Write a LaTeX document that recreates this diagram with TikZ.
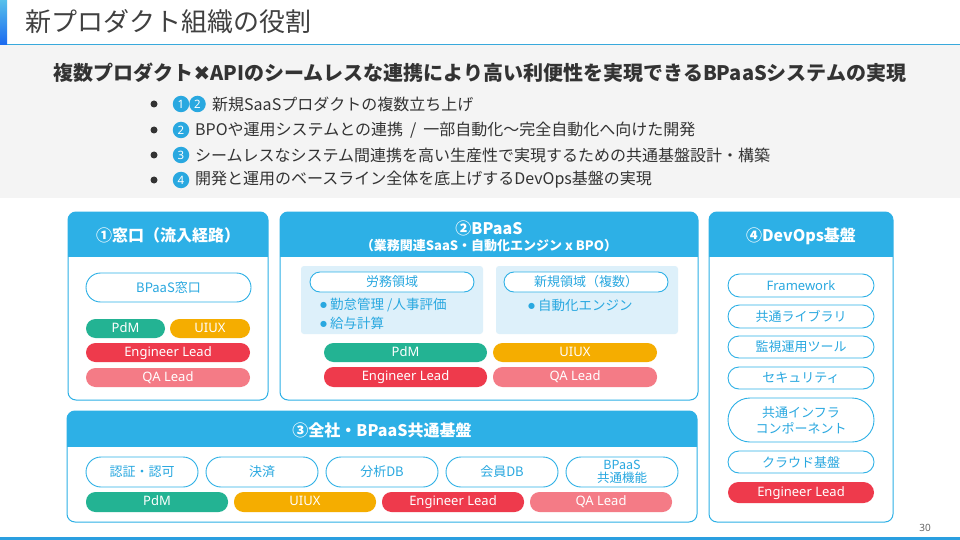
\documentclass[tikz,border=0pt]{standalone}
\usepackage{fontspec}
\setmainfont{Noto Sans CJK JP}
\newfontfamily\dv{DejaVu Sans}
\newfontfamily\lat{Noto Sans}
\definecolor{hblue}{HTML}{2DB0E6}
\definecolor{tblue}{HTML}{29A8E0}
\definecolor{lblue}{HTML}{DDF0FA}
\definecolor{pdm}{HTML}{23B393}
\definecolor{uiux}{HTML}{F5AD00}
\definecolor{eng}{HTML}{EE3A4C}
\definecolor{qa}{HTML}{F47B86}
\definecolor{band}{HTML}{F4F4F4}
\definecolor{ttl}{HTML}{404040}
\definecolor{txt}{HTML}{333333}
\definecolor{rule}{HTML}{38A9DC}
\definecolor{botblue}{HTML}{2A9FE0}
\newcommand{\bdot}{\raisebox{2pt}{\dv\fontsize{8}{10}\selectfont ●}\hspace{3pt}}
\tikzset{
  panel/.style={draw=hblue, line width=1pt, fill=white, rounded corners=8pt, inner sep=0pt},
  hdr/.style={text=white, font=\fontsize{16}{19}\selectfont\bfseries, inner sep=0pt},
  pill/.style={draw=hblue, line width=0.9pt, fill=white, rounded corners=10pt, text=tblue,
    font=\fontsize{13}{16}\selectfont, inner sep=0pt, align=center},
  role/.style={rounded corners=9.5pt, text=white, font=\lat\fontsize{13}{15}\selectfont, inner sep=0pt,
    text height=9.5pt, text depth=2.5pt},
  subbox/.style={fill=lblue, rounded corners=3pt, inner sep=0pt},
  btxt/.style={anchor=west, inner sep=0pt, text=tblue, font=\fontsize{13.5}{16}\selectfont},
  num/.style={circle, fill=tblue, text=white, minimum size=16.5pt, inner sep=0pt,
    font=\lat\fontsize{11.5}{11.5}\selectfont\bfseries},
  dotmark/.style={circle, fill=txt, minimum size=7pt, inner sep=0pt},
  ltxt/.style={anchor=west, inner sep=0pt, text=txt, font=\fontsize{16}{19}\selectfont}
}
\begin{document}
\begin{tikzpicture}[x=1pt,y=-1pt]
\useasboundingbox (0,0) rectangle (960,540);
\fill[white] (0,0) rectangle (960,540);
\fill[band] (0,45.5) rectangle (960,198);
\shade[top color=hblue!80!white, bottom color=blue!40!hblue] (0,0) rectangle (7,45);
\fill[rule] (7,44) rectangle (960,45.5);
\fill[botblue] (0,537) rectangle (960,540);

% title
\node[anchor=west, inner sep=0pt, text=ttl, font=\fontsize{26}{30}\selectfont] (title) at (25,22) {新プロダクト組織の役割};
\node[text=txt, font=\fontsize{20}{24}\selectfont\bfseries, inner sep=0pt] (subtitle) at (480,73)
  {複数プロダクト{\dv ✖}APIのシームレスな連携により高い利便性を実現できるBPaaSシステムの実現};

% bullets
\node[dotmark] (d1) at (154,104) {};
\node[num] (n1a) at (181,104) {1};
\node[num] (n1b) at (197.5,104) {2};
\node[ltxt] (t1) at (212,104) {新規SaaSプロダクトの複数立ち上げ};
\node[dotmark] (d2) at (154,130) {};
\node[num] (n2) at (181,130) {2};
\node[ltxt] (t2) at (195,130) {BPOや運用システムとの連携\hspace{7pt}/\hspace{7pt}一部自動化〜完全自動化へ向けた開発};
\node[dotmark] (d3) at (154,155) {};
\node[num] (n3) at (181,155) {3};
\node[ltxt] (t3) at (195,155) {シームレスなシステム間連携を高い生産性で実現するための共通基盤設計・構築};
\node[dotmark] (d4) at (154,180) {};
\node[num] (n4) at (181,180) {4};
\node[ltxt] (t4) at (195,180) {開発と運用のベースライン全体を底上げするDevOps基盤の実現};

% panel 1
\node[panel, minimum width=200pt, minimum height=188pt] (P1) at (168,306) {};
\begin{scope}\clip[rounded corners=8pt] (68,212) rectangle (268,400); \fill[hblue] (68,212) rectangle (268,257); \end{scope}
\node[hdr] (h1) at (168,235) {①窓口（流入経路）};
\node[pill, minimum width=165pt, minimum height=29pt, rounded corners=14.5pt] (w1) at (168.5,287.5) {BPaaS窓口};
\node[role, fill=pdm, minimum width=79pt, minimum height=19pt] (r1a) at (125.5,328.5) {PdM};
\node[role, fill=uiux, minimum width=80pt, minimum height=19pt] (r1b) at (210,328.5) {UIUX};
\node[role, fill=eng, minimum width=164pt, minimum height=19pt] (r1c) at (168,352.5) {Engineer Lead};
\node[role, fill=qa, minimum width=164pt, minimum height=19pt] (r1d) at (168,377.5) {QA Lead};

% panel 2
\node[panel, minimum width=418pt, minimum height=188pt] (P2) at (489,306) {};
\begin{scope}\clip[rounded corners=8pt] (280,212) rectangle (698,400); \fill[hblue] (280,212) rectangle (698,257); \end{scope}
\node[hdr] (h2) at (489,228) {②BPaaS};
\node[text=white, font=\fontsize{13}{15}\selectfont\bfseries, inner sep=0pt] (h2s) at (489,246) {（業務関連SaaS・自動化エンジン x BPO）};
\node[subbox, minimum width=182pt, minimum height=68pt] (s1) at (392,300) {};
\node[subbox, minimum width=182pt, minimum height=68pt] (s2) at (587,300) {};
\node[pill, minimum width=164pt, minimum height=20pt] (s1p) at (392,282) {労務領域};
\node[pill, minimum width=164pt, minimum height=20pt] (s2p) at (586,282) {新規領域（複数）};
\node[btxt] (b1) at (320,305) {\bdot 勤怠管理 /人事評価};
\node[btxt] (b2) at (320,323) {\bdot 給与計算};
\node[btxt] (b3) at (528,305) {\bdot 自動化エンジン};
\node[role, fill=pdm, minimum width=163pt, minimum height=19pt] (r2a) at (405.5,352.5) {PdM};
\node[role, fill=uiux, minimum width=164pt, minimum height=19pt] (r2b) at (575,352.5) {UIUX};
\node[role, fill=eng, minimum width=163pt, minimum height=20pt] (r2c) at (405.5,377) {Engineer Lead};
\node[role, fill=qa, minimum width=164pt, minimum height=20pt] (r2d) at (575,377) {QA Lead};

% panel 3
\node[panel, minimum width=630pt, minimum height=111pt] (P3) at (382,466.5) {};
\begin{scope}\clip[rounded corners=8pt] (67,411) rectangle (697,522); \fill[hblue] (67,411) rectangle (697,447); \end{scope}
\node[hdr] (h3) at (382,430) {③全社・BPaaS共通基盤};
\node[pill, minimum width=112pt, minimum height=30pt, rounded corners=15pt] (c1) at (142,472) {認証・認可};
\node[pill, minimum width=112pt, minimum height=30pt, rounded corners=15pt] (c2) at (262,472) {決済};
\node[pill, minimum width=112pt, minimum height=30pt, rounded corners=15pt] (c3) at (382,472) {分析DB};
\node[pill, minimum width=112pt, minimum height=30pt, rounded corners=15pt] (c4) at (502,472) {会員DB};
\node[pill, minimum width=112pt, minimum height=30pt, rounded corners=15pt, font=\fontsize{12.5}{13.5}\selectfont] (c5) at (622,472) {BPaaS\\共通機能};
\node[role, fill=pdm, minimum width=142pt, minimum height=20pt] (r3a) at (157,502) {PdM};
\node[role, fill=uiux, minimum width=142pt, minimum height=20pt] (r3b) at (305,502) {UIUX};
\node[role, fill=eng, minimum width=142pt, minimum height=20pt] (r3c) at (453,502) {Engineer Lead};
\node[role, fill=qa, minimum width=142pt, minimum height=20pt] (r3d) at (601,502) {QA Lead};

% panel 4
\node[panel, minimum width=184pt, minimum height=310pt] (P4) at (801,367) {};
\begin{scope}\clip[rounded corners=8pt] (709,212) rectangle (893,522); \fill[hblue] (709,212) rectangle (893,257); \end{scope}
\node[hdr] (h4) at (801,236) {④DevOps基盤};
\node[pill, minimum width=146pt, minimum height=23pt, rounded corners=11.5pt, font=\lat\fontsize{13}{15}\selectfont] (f1) at (801,285.5) {Framework};
\node[pill, minimum width=146pt, minimum height=23pt, rounded corners=11.5pt] (f2) at (801,316.5) {共通ライブラリ};
\node[pill, minimum width=146pt, minimum height=22pt, rounded corners=11pt] (f3) at (801,347) {監視運用ツール};
\node[pill, minimum width=146pt, minimum height=22pt, rounded corners=11pt] (f4) at (801,378) {セキュリティ};
\node[pill, minimum width=146pt, minimum height=44pt, rounded corners=22pt] (f5) at (801,420) {共通インフラ\\コンポーネント};
\node[pill, minimum width=146pt, minimum height=22pt, rounded corners=11pt] (f6) at (801,462) {クラウド基盤};
\node[role, fill=eng, minimum width=146pt, minimum height=21pt, rounded corners=10.5pt] (f7) at (801,492.5) {Engineer Lead};

\node[text=black!60, font=\lat\fontsize{10}{12}\selectfont, inner sep=0pt] (pg) at (925,528) {30};
\end{tikzpicture}
\end{document}
